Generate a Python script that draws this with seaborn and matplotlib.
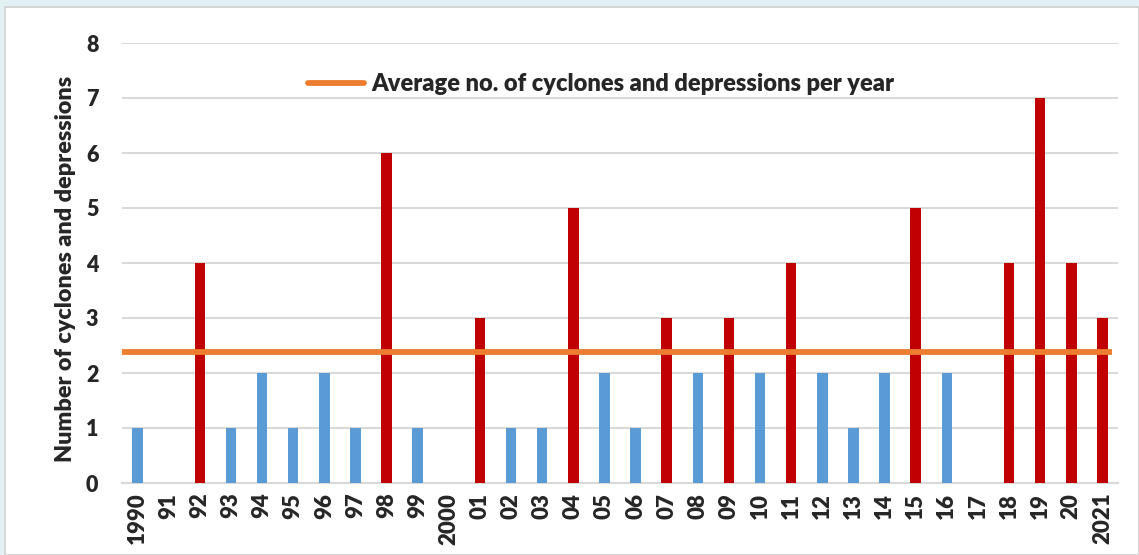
import matplotlib
matplotlib.use("Agg")
import matplotlib.pyplot as plt
import numpy as np
import pandas as pd
import seaborn as sns
from matplotlib.patches import Rectangle
from matplotlib.lines import Line2D

years = ["1990", "91", "92", "93", "94", "95", "96", "97", "98", "99",
         "2000", "01", "02", "03", "04", "05", "06", "07", "08", "09",
         "10", "11", "12", "13", "14", "15", "16", "17", "18", "19",
         "20", "2021"]
counts = [1, 0, 4, 1, 2, 1, 2, 1, 6, 1,
          0, 3, 1, 1, 5, 2, 1, 3, 2, 3,
          2, 4, 2, 1, 2, 5, 2, 0, 4, 7,
          4, 3]
average = float(np.mean(counts))

RED = "#C00000"
BLUE = "#5B9BD5"
ORANGE = "#ED7D31"
GRID = "#D9D9D9"

df = pd.DataFrame({"year": years, "count": counts})
df["above"] = df["count"] > average

sns.set_theme(style="white")
plt.rcParams["font.family"] = ["Lato", "DejaVu Sans"]
WEIGHT = "heavy"

fig = plt.figure(figsize=(11.39, 5.55), dpi=100)
fig.patch.set_facecolor("#E3F0F4")
# white panel with thin gray border
fig.patches.append(Rectangle((5 / 1139, 0), 1 - 5 / 1139, 1 - 7 / 555,
                             transform=fig.transFigure, facecolor="white",
                             edgecolor="#D0D0D0", linewidth=1.2, zorder=-10))

ax = fig.add_axes([122 / 1139, 1 - 483 / 555, (1118 - 122) / 1139, (483 - 43) / 555])
ax.set_zorder(5)
ax.set_facecolor("none")

palette = [RED if a else BLUE for a in df["above"]]
sns.barplot(data=df, x="year", y="count", hue="year", palette=palette,
            legend=False, width=0.34, ax=ax, saturation=1, zorder=3,
            linewidth=0)

ax.axhline(average, color=ORANGE, linewidth=4.2, solid_capstyle="butt",
           xmin=0, xmax=0.994, zorder=4)

ax.set_ylim(0, 8)
ax.set_xlim(-0.5, len(years) - 0.5)
ax.set_yticks(range(0, 9))
ax.yaxis.grid(True, color=GRID, linewidth=1.5, zorder=0)
ax.set_axisbelow(True)
for s in ["top", "right", "left"]:
    ax.spines[s].set_visible(False)
ax.spines["bottom"].set_color(GRID)
ax.spines["bottom"].set_linewidth(1.5)

ax.tick_params(axis="y", length=0, pad=17, labelsize=15.5)
ax.tick_params(axis="x", length=0, pad=7, labelsize=16, rotation=90)
for t in ax.get_yticklabels() + ax.get_xticklabels():
    t.set_fontweight(WEIGHT)
ax.set_xlabel("")
ax.set_ylabel("Number of cyclones and depressions", fontsize=16.8,
              fontweight=WEIGHT)
ax.yaxis.set_label_coords(-0.046, 0.487)

handle = Line2D([], [], color=ORANGE, linewidth=4.2, solid_capstyle="round")
leg = ax.legend([handle], ["Average no. of cyclones and depressions per year"],
                loc="upper left", bbox_to_anchor=(0.165, 0.98), frameon=False,
                handlelength=2.4, handletextpad=0.3,
                prop={"weight": WEIGHT, "size": 17})

fig.savefig("out.png", dpi=100, facecolor=fig.get_facecolor())
